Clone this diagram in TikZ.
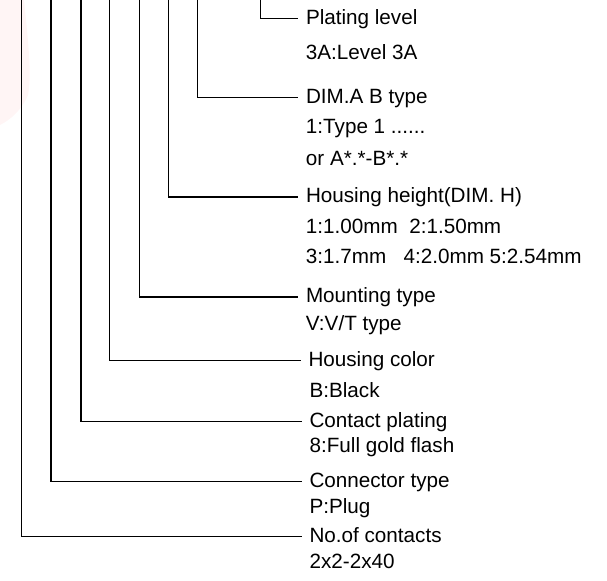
\documentclass[tikz,border=0pt]{standalone}
\usepackage{fontspec}
\setmainfont{Liberation Sans}
\usetikzlibrary{positioning}

\begin{document}
\begin{tikzpicture}[
  x=0.75pt, y=-0.75pt,
  lead/.style={line width=0.9pt, black},
  hd/.style={anchor=west, inner xsep=5.8pt, inner ysep=0pt, text height=1.07em, text depth=0.2em, font=\fontsize{15.5}{18}\selectfont},
  desc/.style={anchor=base west, inner sep=0pt, font=\fontsize{15.5}{18}\selectfont},
]
\useasboundingbox (0,0) rectangle (607,581);

% faint watermark at the left edge
\fill[red!4] (0,0) -- (24,0) .. controls (28,40) and (32,75) .. (28,95)
  .. controls (22,110) and (10,120) .. (0,125) -- cycle;

% top ends of the leads
\coordinate (t1) at (260.7,0);
\coordinate (t2) at (197.7,0);
\coordinate (t3) at (168.3,0);
\coordinate (t4) at (139.3,0);
\coordinate (t5) at (109.3,0);
\coordinate (t6) at (81,0);
\coordinate (t7) at (51,0);
\coordinate (t8) at (21.7,0);

% field names
\node[hd] (plat) at (298,18.3) {Plating level};
\node[hd] (dima) at (298,97.3) {DIM.A B type};
\node[hd] (hght) at (298,197) {Housing height(DIM. H)};
\node[hd] (mnt) at (298,297) {Mounting type};
\node[hd] (col) at (300.5,360.7) {Housing color};
\node[hd] (cpl) at (301.5,421.7) {Contact plating};
\node[hd] (ctyp) at (301.5,481.7) {Connector type};
\node[hd] (nct) at (301.5,536.7) {No.of contacts};

% codes
\node[desc] (platd) at (305.7,60) {3A:Level 3A};
\node[desc] (dimad) at (305.7,133.3) {1:Type 1 ......};
\node[desc] (dimae) at (305.7,165.7) {or A*.*-B*.*};
\node[desc] (hghtd) at (305.7,233.3) {1:1.00mm~~2:1.50mm};
\node[desc] (hghte) at (305.7,263.3) {3:1.7mm~~~4:2.0mm 5:2.54mm};
\node[desc] (mntd) at (305.7,330.7) {V:V/T type};
\node[desc] (cold) at (309.3,397.3) {B:Black};
\node[desc] (cpld) at (309.3,452.7) {8:Full gold flash};
\node[desc] (ctypd) at (309.3,513.3) {P:Plug};
\node[desc] (nctd) at (309.3,568.3) {2x2-2x40};

% leads
\draw[lead] (t1) |- (plat);
\draw[lead] (t2) |- (dima);
\draw[lead] (t3) |- (hght);
\draw[lead] (t4) |- (mnt);
\draw[lead] (t5) |- (col);
\draw[lead] (t6) |- (cpl);
\draw[lead] (t7) |- (ctyp);
\draw[lead] (t8) |- (nct);
\end{tikzpicture}
\end{document}
